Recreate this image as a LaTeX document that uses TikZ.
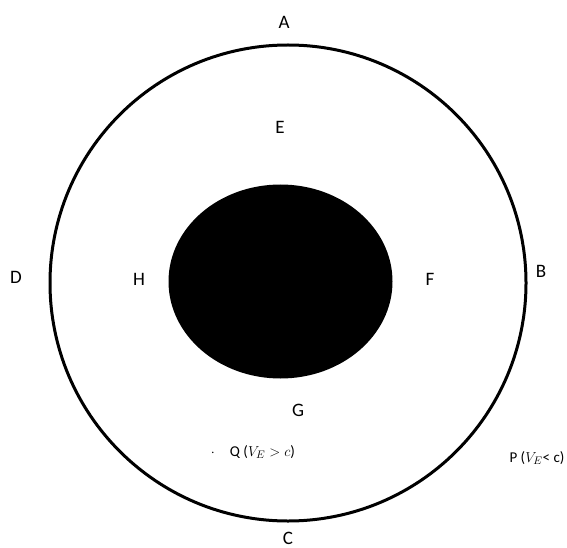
\documentclass[tikz,border=0pt]{standalone}
\usepackage{fontspec}
\setmainfont{Carlito}
\usetikzlibrary{positioning}
\tikzset{
    ptlabel/.style={font=\fontsize{19}{21}\selectfont, inner sep=0pt},
    smalllabel/.style={font=\fontsize{15}{17}\selectfont, inner sep=0pt},
    orbit/.style={draw=black, line width=3pt},
    hole/.style={fill=black}
}
\begin{document}
\begin{tikzpicture}[x=1pt, y=-1pt]
    \useasboundingbox (0,0) rectangle (567,548);
    % outer circle and the black body
    \draw[orbit] (288,283) circle (238);
    \fill[hole] (280.5,281.5) ellipse (112 and 97);
    % points on the outer circle
    \node[ptlabel] (A) at (284,22) {A};
    \node[ptlabel] (B) at (541,271) {B};
    \node[ptlabel] (C) at (288,538) {C};
    \node[ptlabel] (D) at (16,277) {D};
    % points near the body
    \node[ptlabel] (E) at (280,127) {E};
    \node[ptlabel] (F) at (430,279) {F};
    \node[ptlabel] (G) at (298,410) {G};
    \node[ptlabel] (H) at (139,279) {H};
    % observers
    \node[smalllabel] (Q) at (253,452) {$\cdot$\quad Q ($V_E > c$)};
    \node[smalllabel] (P) at (537,458) {P ($V_E$< c)};
\end{tikzpicture}
\end{document}
